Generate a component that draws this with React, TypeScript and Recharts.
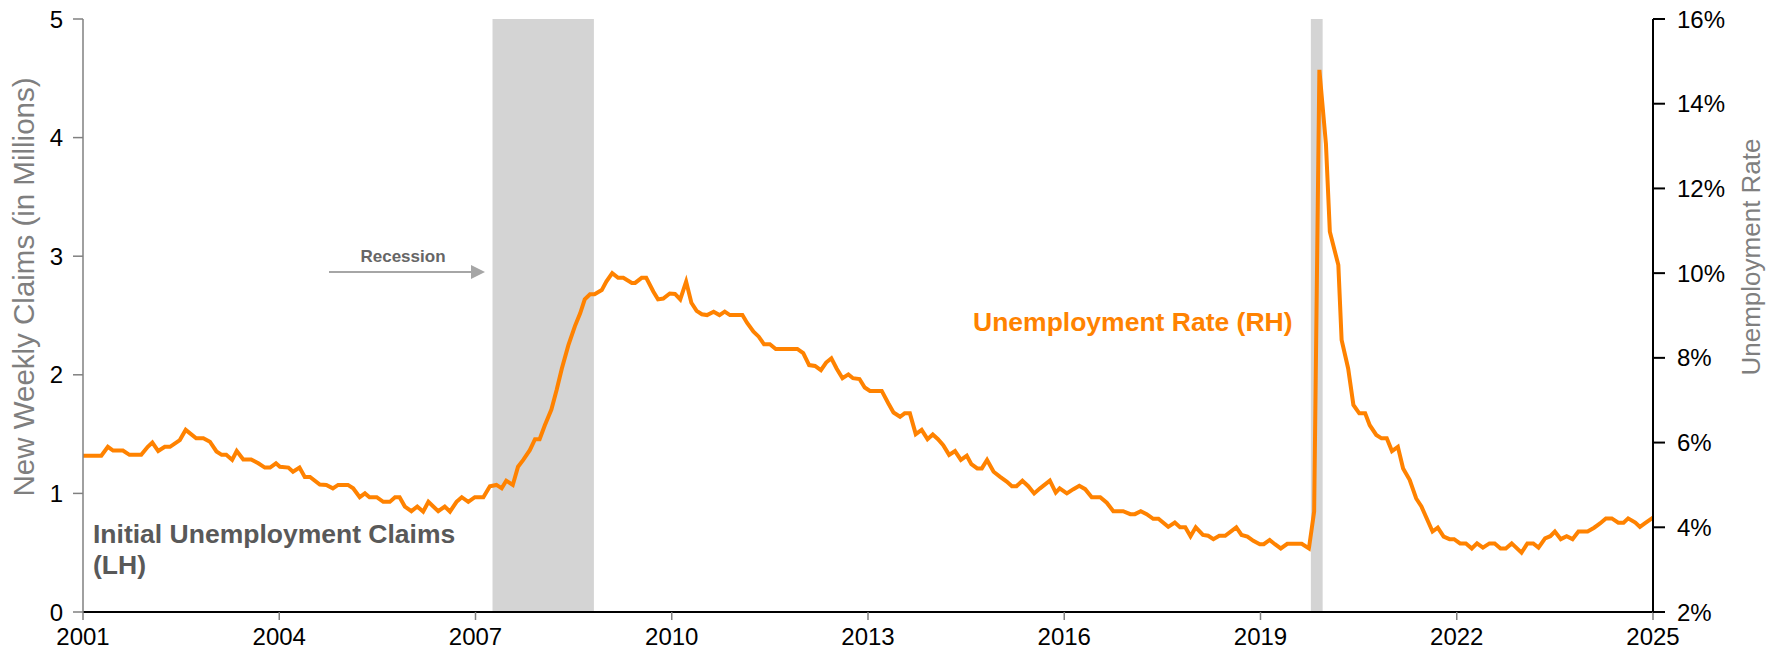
import React from 'react';
import { ComposedChart, Line, XAxis, YAxis, ReferenceArea } from 'recharts';

// decimal year positions as plotted on the chart
const years = [
  2001.0, 2001.28, 2001.38, 2001.46, 2001.61, 2001.71, 2001.89, 2001.99, 2002.06, 2002.15, 2002.25, 2002.33,
  2002.48, 2002.57, 2002.73, 2002.84, 2002.94, 2003.04, 2003.12, 2003.19, 2003.28, 2003.35, 2003.45, 2003.57,
  2003.68, 2003.78, 2003.86, 2003.95, 2004.01, 2004.14, 2004.21, 2004.31, 2004.39, 2004.47, 2004.62, 2004.72,
  2004.82, 2004.9, 2005.05, 2005.13, 2005.23, 2005.31, 2005.38, 2005.49, 2005.59, 2005.69, 2005.77, 2005.84,
  2005.92, 2006.02, 2006.11, 2006.2, 2006.28, 2006.43, 2006.53, 2006.61, 2006.71, 2006.79, 2006.89, 2006.99,
  2007.12, 2007.22, 2007.32, 2007.4, 2007.47, 2007.57, 2007.65, 2007.73, 2007.83, 2007.91, 2007.98, 2008.06,
  2008.16, 2008.24, 2008.32, 2008.42, 2008.52, 2008.6, 2008.67, 2008.75, 2008.82, 2008.93, 2009.0, 2009.09,
  2009.18, 2009.26, 2009.39, 2009.44, 2009.54, 2009.61, 2009.72, 2009.79, 2009.87, 2009.97, 2010.05, 2010.13,
  2010.22, 2010.3, 2010.38, 2010.46, 2010.54, 2010.64, 2010.73, 2010.81, 2010.89, 2011.08, 2011.15, 2011.25,
  2011.33, 2011.41, 2011.5, 2011.59, 2011.92, 2012.01, 2012.1, 2012.19, 2012.28, 2012.36, 2012.44, 2012.52,
  2012.61, 2012.7, 2012.77, 2012.87, 2012.95, 2013.03, 2013.21, 2013.31, 2013.39, 2013.49, 2013.56, 2013.64,
  2013.73, 2013.82, 2013.91, 2013.99, 2014.07, 2014.15, 2014.24, 2014.33, 2014.42, 2014.51, 2014.58, 2014.67,
  2014.74, 2014.82, 2014.92, 2015.02, 2015.12, 2015.2, 2015.27, 2015.36, 2015.45, 2015.54, 2015.63, 2015.78,
  2015.87, 2015.93, 2016.04, 2016.14, 2016.23, 2016.32, 2016.42, 2016.55, 2016.65, 2016.75, 2016.9, 2017.01,
  2017.08, 2017.17, 2017.26, 2017.36, 2017.44, 2017.59, 2017.69, 2017.77, 2017.85, 2017.93, 2018.01, 2018.12,
  2018.2, 2018.28, 2018.37, 2018.46, 2018.63, 2018.71, 2018.8, 2018.89, 2018.99, 2019.05, 2019.14, 2019.22,
  2019.31, 2019.41, 2019.63, 2019.74, 2019.82, 2019.9, 2020.0, 2020.06, 2020.19, 2020.24, 2020.34, 2020.42,
  2020.51, 2020.6, 2020.67, 2020.77, 2020.85, 2020.93, 2021.01, 2021.1, 2021.18, 2021.28, 2021.38, 2021.46,
  2021.63, 2021.71, 2021.8, 2021.89, 2021.96, 2022.05, 2022.14, 2022.23, 2022.31, 2022.4, 2022.5, 2022.58,
  2022.67, 2022.75, 2022.84, 2022.99, 2023.08, 2023.17, 2023.25, 2023.35, 2023.43, 2023.5, 2023.59, 2023.68,
  2023.77, 2023.86, 2024.0, 2024.1, 2024.19, 2024.28, 2024.37, 2024.47, 2024.55, 2024.62, 2024.73, 2024.8,
  2024.89, 2025.0,
];

// unemployment rate, %
const rates = [
  5.69, 5.69, 5.9, 5.81, 5.81, 5.71, 5.71, 5.9, 6.0, 5.8, 5.9, 5.9,
  6.06, 6.3, 6.1, 6.1, 6.02, 5.79, 5.71, 5.71, 5.59, 5.8, 5.6, 5.6,
  5.51, 5.41, 5.41, 5.51, 5.43, 5.41, 5.31, 5.41, 5.19, 5.19, 5.01, 5.0,
  4.92, 5.0, 5.0, 4.92, 4.71, 4.8, 4.71, 4.71, 4.6, 4.6, 4.71, 4.71,
  4.49, 4.38, 4.49, 4.37, 4.6, 4.38, 4.49, 4.37, 4.6, 4.71, 4.6, 4.71,
  4.71, 4.97, 5.0, 4.92, 5.1, 5.0, 5.43, 5.59, 5.82, 6.08, 6.08, 6.41,
  6.78, 7.24, 7.75, 8.3, 8.75, 9.05, 9.38, 9.5, 9.5, 9.6, 9.8, 10.0,
  9.89, 9.89, 9.77, 9.77, 9.89, 9.89, 9.56, 9.38, 9.4, 9.52, 9.51, 9.38,
  9.8, 9.3, 9.11, 9.03, 9.01, 9.09, 9.01, 9.09, 9.01, 9.01, 8.83, 8.62,
  8.5, 8.32, 8.32, 8.21, 8.21, 8.11, 7.83, 7.81, 7.71, 7.89, 7.99, 7.75,
  7.52, 7.61, 7.52, 7.5, 7.3, 7.22, 7.22, 6.93, 6.71, 6.61, 6.69, 6.69,
  6.2, 6.3, 6.08, 6.19, 6.08, 5.94, 5.71, 5.8, 5.59, 5.69, 5.49, 5.39,
  5.39, 5.59, 5.31, 5.19, 5.08, 4.97, 4.97, 5.1, 4.97, 4.8, 4.92, 5.1,
  4.82, 4.92, 4.8, 4.9, 4.98, 4.9, 4.71, 4.71, 4.58, 4.38, 4.38, 4.31,
  4.31, 4.38, 4.31, 4.2, 4.2, 4.01, 4.11, 4.0, 4.0, 3.79, 4.0, 3.82,
  3.8, 3.72, 3.8, 3.8, 4.0, 3.82, 3.78, 3.68, 3.6, 3.6, 3.7, 3.6,
  3.5, 3.61, 3.61, 3.5, 4.37, 14.8, 13.06, 10.98, 10.19, 8.42, 7.75, 6.89,
  6.69, 6.69, 6.41, 6.18, 6.1, 6.1, 5.8, 5.9, 5.39, 5.12, 4.68, 4.49,
  3.9, 3.99, 3.78, 3.72, 3.72, 3.62, 3.62, 3.5, 3.62, 3.52, 3.62, 3.62,
  3.5, 3.5, 3.62, 3.4, 3.62, 3.62, 3.52, 3.74, 3.79, 3.9, 3.72, 3.79,
  3.72, 3.9, 3.9, 3.99, 4.09, 4.21, 4.21, 4.11, 4.11, 4.21, 4.11, 4.01,
  4.11, 4.23,
];

const yearTicks = [2001, 2004, 2007, 2010, 2013, 2016, 2019, 2022, 2025];
const claimTicks = [0, 1, 2, 3, 4, 5];
const rateTicks = [2, 4, 6, 8, 10, 12, 14, 16];

// recession periods (start, end) as placed on the x axis
const recessions = [
  [2007.26, 2008.81],
  [2019.77, 2019.95],
];

const data = years.map((t, i) => ({ t, rate: rates[i] }));

const FONT = '"Liberation Sans", Arial, sans-serif';
const ORANGE = '#FF8200';

export default function App() {
  return (
    <div style={{ position: 'absolute', left: 0, top: 0, width: 1787, height: 651, background: '#fff', fontFamily: FONT }}>
      <ComposedChart
        width={1787}
        height={651}
        data={data}
        margin={{ top: 19, right: 0, bottom: 0, left: 0 }}
      >
        {recessions.map(([a, b], i) => (
          <ReferenceArea
            key={i}
            x1={a}
            x2={b}
            yAxisId="right"
            y1={2}
            y2={16}
            fill="#d4d4d4"
            fillOpacity={1}
            stroke="none"
          />
        ))}
        <XAxis
          dataKey="t"
          type="number"
          domain={[2001, 2025]}
          ticks={yearTicks}
          allowDataOverflow
          height={39}
          tickSize={8}
          tickMargin={8}
          axisLine={{ stroke: '#000', strokeWidth: 2 }}
          tickLine={{ stroke: '#808080', strokeWidth: 1.5 }}
          tick={{ fontSize: 24, fill: '#000', fontFamily: FONT }}
        />
        <YAxis
          yAxisId="left"
          orientation="left"
          type="number"
          domain={[0, 5]}
          allowDataOverflow
          ticks={claimTicks}
          interval={0}
          width={83}
          tickSize={10}
          tickMargin={10}
          axisLine={{ stroke: '#808080', strokeWidth: 1.5 }}
          tickLine={{ stroke: '#808080', strokeWidth: 1.5 }}
          tick={{ fontSize: 24, fill: '#000', fontFamily: FONT }}
        />
        <YAxis
          yAxisId="right"
          orientation="right"
          type="number"
          domain={[2, 16]}
          allowDataOverflow
          ticks={rateTicks}
          interval={0}
          width={134}
          tickSize={12}
          tickMargin={12}
          tickFormatter={(v) => `${v}%`}
          axisLine={{ stroke: '#000', strokeWidth: 2 }}
          tickLine={{ stroke: '#000', strokeWidth: 2 }}
          tick={{ fontSize: 24, fill: '#000', fontFamily: FONT }}
        />
        <Line
          yAxisId="right"
          dataKey="rate"
          type="linear"
          stroke={ORANGE}
          strokeWidth={4}
          dot={false}
          isAnimationActive={false}
        />
      </ComposedChart>

      <svg
        width={1787}
        height={651}
        style={{ position: 'absolute', left: 0, top: 0, pointerEvents: 'none' }}
        fontFamily={FONT}
      >
        <text transform="translate(34, 287) rotate(-90)" textAnchor="middle" fontSize={29.5} fill="#7f7f7f">
          New Weekly Claims (in Millions)
        </text>
        <text transform="translate(1760, 257) rotate(-90)" textAnchor="middle" fontSize={26} fill="#7f7f7f">
          Unemployment Rate
        </text>

        <text x={403} y={262} textAnchor="middle" fontSize={17} fontWeight="bold" fill="#666">
          Recession
        </text>
        <line x1={329} y1={272} x2={473} y2={272} stroke="#a6a6a6" strokeWidth={2} />
        <polygon points="471,265 485,272 471,279" fill="#a6a6a6" />

        <text x={973} y={331} fontSize={26.5} fontWeight="bold" fill={ORANGE}>
          Unemployment Rate (RH)
        </text>

        <text x={93} y={543} fontSize={26.5} fontWeight="bold" fill="#595959">
          Initial Unemployment Claims
        </text>
        <text x={93} y={574} fontSize={26.5} fontWeight="bold" fill="#595959">
          (LH)
        </text>
      </svg>
    </div>
  );
}
